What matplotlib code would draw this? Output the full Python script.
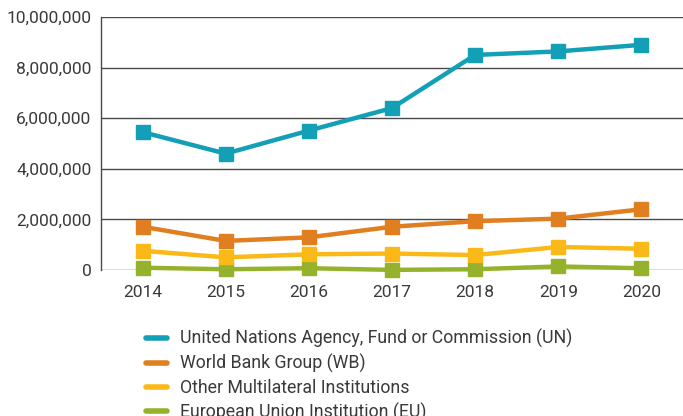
import matplotlib
matplotlib.use("Agg")
import matplotlib.pyplot as plt
from matplotlib.ticker import FuncFormatter
from matplotlib.lines import Line2D

years = [2014, 2015, 2016, 2017, 2018, 2019, 2020]
un = [5450000, 4600000, 5510000, 6400000, 8500000, 8640000, 8900000]
wb = [1710000, 1150000, 1290000, 1710000, 1930000, 2030000, 2400000]
other = [760000, 500000, 620000, 650000, 590000, 910000, 840000]
eu = [90000, 30000, 70000, 5000, 30000, 140000, 70000]

labels = ["United Nations Agency, Fund or Commission (UN)",
          "World Bank Group (WB)",
          "Other Multilateral Institutions",
          "European Union Institution (EU)"]
colors = ["#139fb5", "#e07f1f", "#fbb917", "#95b22c"]
series = [un, wb, other, eu]

plt.rcParams['font.family'] = ['Roboto', 'DejaVu Sans']
txt = "#3a3a3a"

fig = plt.figure(figsize=(6.83, 4.16), dpi=100)
ax = fig.add_axes([101/683, 1 - 270/416, 1 - 101/683, (270-17)/416])

for vals, c, lab in zip(series[::-1], colors[::-1], labels[::-1]):
    ax.plot(years, vals, color=c, lw=3.2, marker='s', ms=10, label=lab,
            clip_on=False, zorder=3)

ax.set_xlim(2013.5, 2020.5)
ax.set_ylim(0, 10000000)
ax.set_yticks(range(0, 10000001, 2000000))
ax.set_xticks(years)
ax.yaxis.set_major_formatter(FuncFormatter(lambda v, p: f"{int(v):,}"))
ax.grid(axis='y', color='#4a4a4a', lw=1)
ax.set_axisbelow(True)
for s in ['top', 'right', 'bottom']:
    ax.spines[s].set_visible(False)
ax.spines['left'].set_color('#4a4a4a')
ax.spines['left'].set_linewidth(1)
ax.tick_params(length=0, labelsize=12.5, colors=txt, pad=7)
ax.tick_params(axis='x', pad=11)

h = [Line2D([0], [0], color=c, lw=4, solid_capstyle='round') for c in colors]
leg = fig.legend(h, labels, loc='upper left', bbox_to_anchor=(139/683, 1 - 322/416),
                 frameon=False, fontsize=12.8, handlelength=1.2, handletextpad=0.7,
                 labelspacing=0.32, labelcolor=txt, borderaxespad=0)

fig.savefig("out.png", dpi=100)
